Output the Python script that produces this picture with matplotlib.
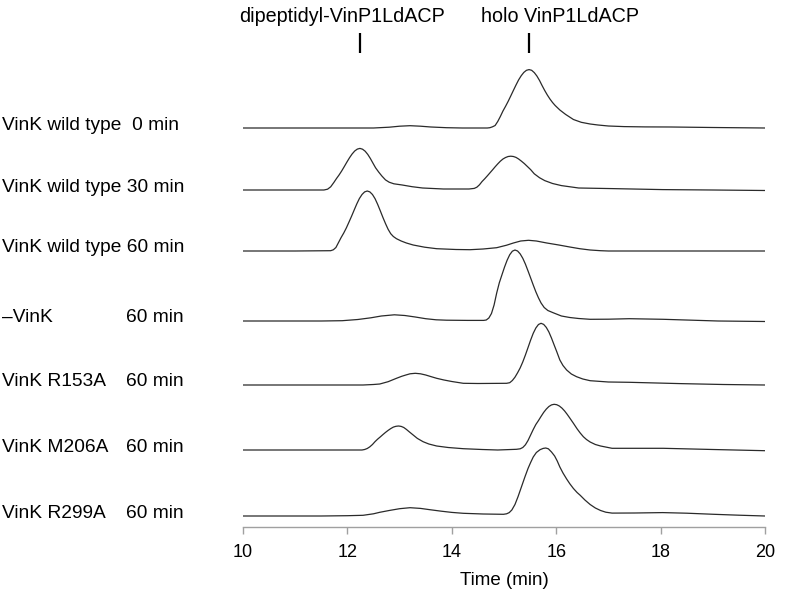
import numpy as np
import matplotlib
matplotlib.use("Agg")
import matplotlib.pyplot as plt

# ---------------- data ----------------
sample_labels = ["VinK wild type  0 min", "VinK wild type 30 min", "VinK wild type 60 min",
                 "\u2013VinK", "VinK R153A", "VinK M206A", "VinK R299A"]
sample_times = ["", "", "", "60 min", "60 min", "60 min", "60 min"]

# trace 1: VinK wild type 0 min
t1 = [10.0, 11.5, 12.5, 12.8, 13.0, 13.2, 13.4, 13.6, 13.9, 14.2, 14.68, 14.73, 14.78, 14.83, 14.88,
      14.93, 14.98, 15.03, 15.08, 15.13, 15.18, 15.23, 15.28, 15.33, 15.38, 15.43, 15.48, 15.53, 15.58,
      15.63, 15.68, 15.73, 15.78, 15.83, 15.88, 15.93, 15.98, 16.07, 16.18, 16.33, 16.48, 16.65, 16.8,
      17.0, 17.3, 17.7, 18.2, 19.0, 20.0]
s1 = [0, 0, 0, 0.8, 1.8, 2.3, 1.8, 1.0, 0.3, 0, 0, 0.3, 1.2, 2.5, 6.5, 11.5, 17, 21.7, 26.7, 32.1,
      37.6, 43.0, 48.1, 52.3, 55.6, 57.7, 58.4, 57.7, 55.4, 52.0, 47.6, 42.4, 37.5, 33, 29, 25.5, 22.5,
      18, 13.6, 8.5, 5.7, 4, 3, 2, 1.4, 1.1, 1, 0.5, 0]

# trace 2: VinK wild type 30 min
t2 = [10.0, 11.0, 11.55, 11.62, 11.68, 11.74, 11.79, 11.84, 11.89, 11.94, 11.99, 12.04, 12.09, 12.14,
      12.19, 12.24, 12.29, 12.34, 12.39, 12.44, 12.49, 12.54, 12.60, 12.66, 12.73, 12.80, 12.89, 13.05,
      13.24, 13.44, 13.84, 14.33, 14.43, 14.48, 14.53, 14.58, 14.63, 14.68, 14.73, 14.78, 14.83, 14.88,
      14.93, 14.98, 15.03, 15.08, 15.13, 15.18, 15.23, 15.28, 15.33, 15.39, 15.45, 15.51, 15.58, 15.68,
      15.78, 15.93, 16.10, 16.43, 17.07, 18.04, 19.0, 20.0]
s2 = [0, 0, 0, 0.8, 3.2, 7.5, 11.4, 15.0, 19.0, 23.4, 27.9, 32.2, 36.0, 39.0, 40.9, 41.6, 40.8, 38.8,
      35.6, 31.5, 26.8, 22.2, 17.9, 14, 10.1, 7.8, 6.2, 5, 3.3, 2.0, 1.0, 1.0, 1.6, 2.8, 5.2, 8.5, 11.2,
      14.1, 17.1, 20.1, 23.2, 26.1, 28.8, 31.0, 32.5, 33.5, 33.8, 33.5, 32.6, 31.0, 29.0, 26.4, 23.4,
      20.4, 16.2, 12.3, 9.4, 6.5, 4.4, 2, 1.4, 0.4, 0, -0.5]

# trace 3: VinK wild type 60 min
t3 = [10.0, 11.0, 11.68, 11.73, 11.78, 11.83, 11.88, 11.93, 11.98, 12.03, 12.08, 12.13, 12.18, 12.23,
      12.28, 12.33, 12.38, 12.43, 12.48, 12.53, 12.58, 12.63, 12.68, 12.73, 12.78, 12.83, 12.88, 12.94,
      13.03, 13.13, 13.26, 13.48, 13.71, 14.08, 14.35, 14.6, 14.86, 15.05, 15.18, 15.32, 15.47, 15.62,
      15.82, 16.05, 16.26, 16.45, 16.65, 16.85, 17.0, 18.0, 19.0, 20.0]
s3 = [0, 0, 0.3, 1.2, 3.5, 8.5, 13.5, 18.0, 23.1, 28.9, 34.8, 41.0, 47.1, 52.5, 56.5, 59.1, 60, 59.1,
      56.5, 52.3, 46.6, 40.2, 33.6, 27.4, 21.7, 17.3, 14.5, 12.3, 10, 8, 6, 3.8, 2.3, 1.5, 1.3, 2, 3.3,
      5.8, 8, 10, 10.7, 10, 8, 6, 4, 2.3, 1, 0.3, 0, 0, 0, 0]

# trace 4: -VinK 60 min
t4 = [10.0, 11.5, 11.9, 12.2, 12.45, 12.65, 12.9, 13.1, 13.3, 13.5, 13.7, 13.9, 14.3, 14.61, 14.66,
      14.71, 14.76, 14.81, 14.86, 14.91, 14.96, 15.01, 15.06, 15.11, 15.16, 15.21, 15.26, 15.31, 15.36,
      15.41, 15.46, 15.51, 15.56, 15.61, 15.66, 15.71, 15.77, 15.84, 15.94, 16.10, 16.26, 16.43, 16.65,
      17.0, 17.4, 18.05, 19.1, 20.0]
s4 = [0, 0, 0.3, 1.5, 3.2, 5, 6.2, 5.5, 4, 2.3, 1.2, 0.8, 0.6, 0.6, 1, 3, 7.5, 16, 28, 38.2, 46.1,
      53.9, 60.8, 66.3, 69.8, 71, 70.0, 67.1, 62.7, 56.9, 50.1, 43.1, 36.0, 29.2, 23.2, 18.0, 13.5,
      10.5, 8.3, 5, 3.5, 2.5, 1.7, 1.8, 2.3, 1.7, 0, -0.5]

# trace 5: VinK R153A 60 min
t5 = [10.0, 11.5, 12.3, 12.5, 12.62, 12.78, 12.94, 13.04, 13.12, 13.20, 13.30, 13.40, 13.50, 13.60,
      13.71, 13.85, 14.0, 14.22, 14.5, 15.05, 15.11, 15.16, 15.21, 15.26, 15.31, 15.36, 15.41, 15.46,
      15.51, 15.56, 15.61, 15.66, 15.71, 15.76, 15.81, 15.86, 15.91, 15.96, 16.01, 16.07, 16.13, 16.20,
      16.29, 16.39, 16.51, 16.65, 17.0, 17.4, 18.37, 19.2, 20.0]
s5 = [0, 0, 0, 0.5, 1, 3.3, 6.7, 8.7, 10, 11.2, 11.7, 11.2, 10, 8.4, 6.7, 5, 3.5, 1.7, 1.5, 1.7, 2.3,
      4.5, 7.8, 12.2, 17.1, 23.1, 30.0, 37.4, 44.9, 51.7, 57.0, 60.5, 61.7, 60.6, 57.6, 53.0, 46.9,
      40.1, 33.4, 25.0, 19.5, 15, 11, 8.3, 6, 4.3, 3, 2.7, 1.4, 0.5, 0]

# trace 6: VinK M206A 60 min
t6 = [10.0, 11.5, 12.28, 12.33, 12.38, 12.43, 12.48, 12.53, 12.58, 12.63, 12.68, 12.73, 12.78, 12.83,
      12.88, 12.93, 12.98, 13.03, 13.08, 13.13, 13.18, 13.26, 13.34, 13.45, 13.56, 13.71, 13.93, 14.22,
      14.58, 14.88, 15.24, 15.31, 15.36, 15.41, 15.46, 15.51, 15.56, 15.61, 15.66, 15.71, 15.76, 15.81,
      15.86, 15.91, 15.96, 16.01, 16.06, 16.11, 16.16, 16.21, 16.26, 16.33, 16.40, 16.46, 16.52, 16.58,
      16.65, 16.75, 16.85, 17.07, 18.05, 19.0, 20.0]
s6 = [0, 0, 0, 0.5, 1.5, 3.2, 5.5, 8.4, 10.9, 13.1, 15.4, 17.6, 19.6, 21.4, 22.9, 23.7, 24, 23.6,
      22.5, 20.6, 18.4, 15, 11.6, 8.3, 6.0, 4, 2.5, 1.3, 0.5, 0, 0.7, 1.2, 2.5, 5.2, 9.5, 15.0, 20.5,
      25.5, 29.4, 33.6, 37.6, 40.9, 43.5, 45.1, 45.7, 45.3, 44.0, 41.9, 39.1, 35.7, 32.0, 26.7, 21.2,
      17.0, 13.3, 10.5, 8.0, 5.5, 4, 1.7, 1.7, 0.5, -0.7]

# trace 7: VinK R299A 60 min
t7 = [10.0, 11.5, 12.0, 12.30, 12.5, 12.62, 12.8, 13.0, 13.20, 13.40, 13.58, 13.8, 14.0, 14.22, 14.6,
      14.99, 15.05, 15.10, 15.15, 15.21, 15.27, 15.33, 15.40, 15.46, 15.51, 15.56, 15.62, 15.69, 15.75,
      15.80, 15.85, 15.91, 15.97, 16.02, 16.07, 16.13, 16.20, 16.26, 16.33, 16.40, 16.46, 16.55, 16.65,
      16.75, 16.85, 16.95, 17.07, 17.5, 18.04, 18.5, 19.02, 19.5, 20.0]
s7 = [0, 0, 0.3, 0.7, 2.2, 3.7, 5.5, 7.3, 8.3, 7.6, 6.3, 4.8, 3.6, 2.7, 2.0, 1.7, 2.2, 3.4, 6.0, 11.5,
      19.5, 28.5, 39, 47.5, 53.5, 59, 63.5, 66.3, 67.6, 68, 67.2, 64, 60, 55, 49, 43, 37, 32.3, 27.5,
      23.5, 20.7, 16, 11.5, 8, 5.5, 3.8, 2.9, 3.0, 3.4, 2.8, 1.7, 0.8, 0]

marker_names = ["dipeptidyl-VinP1LdACP", "holo VinP1LdACP"]
marker_times = [12.24, 15.47]

x_ticks = [10, 12, 14, 16, 18, 20]
x_label = "Time (min)"

# ---------------- layout ----------------
W, H = 796, 594
fig = plt.figure(figsize=(W / 100, H / 100), dpi=100)
ax_left, ax_right, ax_bottom_px, ax_top_px = 243, 765, 527, 40
ax = fig.add_axes([ax_left / W, 1 - ax_bottom_px / H, (ax_right - ax_left) / W,
                   (ax_bottom_px - ax_top_px) / H])
ax.set_xlim(10, 20)
ax.set_ylim(0, ax_bottom_px - ax_top_px)

baselines_px = [128, 190, 251, 321, 385, 450, 516]
traces = [(t1, s1), (t2, s2), (t3, s3), (t4, s4), (t5, s5), (t6, s6), (t7, s7)]
for (t, s), b in zip(traces, baselines_px):
    off = ax_bottom_px - b
    ax.plot(t, np.asarray(s) + off, color="#2a2a2a", lw=0.9, solid_joinstyle="round")

for sp in ["top", "left", "right"]:
    ax.spines[sp].set_visible(False)
ax.spines["bottom"].set_color("#a0a0a0")
ax.spines["bottom"].set_linewidth(1.0)
ax.set_yticks([])

sans = ["Liberation Sans", "DejaVu Sans"]
ax.set_xticks(x_ticks)
ax.set_xticklabels([str(v) for v in x_ticks], fontsize=13, family=sans)
ax.tick_params(axis="x", direction="out", length=5, width=1, color="#a0a0a0", pad=7)
ax.set_xlabel(x_label, fontsize=13.5, family=sans, labelpad=8)

# sample labels
lab_font = dict(fontsize=13.8, family=sans, va="center")
for name, tm, b in zip(sample_labels, sample_times, baselines_px):
    fig.text(2 / W, 1 - (b - 3) / H, name, ha="left", **lab_font)
    if tm:
        fig.text(126 / W, 1 - (b - 3) / H, tm, ha="left", **lab_font)

# peak markers
text_centers = [11.90, 16.07]
for name, tm, tc in zip(marker_names, marker_times, text_centers):
    ax.plot([tm, tm], [ax_bottom_px - 53, ax_bottom_px - 33], color="black", lw=1.6,
            clip_on=False, solid_capstyle="butt")
    ax.text(tc, ax_bottom_px - 16, name, ha="center", va="center", fontsize=14.2,
            family=sans, clip_on=False)

fig.savefig("out.png", dpi=100, facecolor="white")
